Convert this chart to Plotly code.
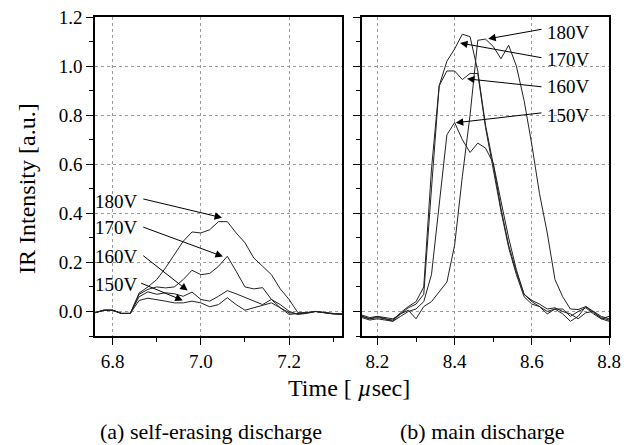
import plotly.graph_objects as go

# ---------------- data ----------------
voltages = ["180V", "170V", "160V", "150V"]

t_self = [6.76, 6.78, 6.80, 6.82, 6.84, 6.86, 6.88, 6.90, 6.92, 6.94, 6.96, 6.98, 7.00,
          7.02, 7.04, 7.06, 7.08, 7.10, 7.12, 7.14, 7.16, 7.18, 7.20, 7.22, 7.24, 7.26,
          7.28, 7.30, 7.32]
self_180 = [-0.005, 0.005, 0.005, -0.008, -0.008, 0.075, 0.10, 0.13, 0.178, 0.232, 0.286,
            0.324, 0.32, 0.333, 0.366, 0.366, 0.32, 0.28, 0.218, 0.184, 0.15, 0.092, 0.049,
            -0.005, -0.005, 0.0, -0.005, -0.01, -0.01]
self_170 = [-0.005, 0.005, 0.005, -0.008, -0.008, 0.07, 0.09, 0.10, 0.096, 0.10, 0.13,
            0.168, 0.15, 0.155, 0.184, 0.225, 0.164, 0.10, 0.092, 0.097, 0.049, 0.015,
            -0.012, -0.01, -0.005, 0.0, -0.005, -0.01, -0.012]
self_160 = [-0.005, 0.005, 0.005, -0.008, -0.008, 0.06, 0.08, 0.07, 0.076, 0.072, 0.062,
            0.079, 0.049, 0.042, 0.062, 0.085, 0.072, 0.058, 0.044, 0.028, 0.049, 0.028,
            0.001, -0.012, -0.008, 0.0, -0.005, -0.01, -0.012]
self_150 = [-0.005, 0.005, 0.005, -0.008, -0.008, 0.045, 0.054, 0.049, 0.042, 0.035, 0.035,
            0.042, 0.035, 0.019, 0.028, 0.056, 0.028, 0.005, 0.015, 0.022, 0.035, 0.015,
            -0.005, -0.01, -0.005, 0.0, -0.005, -0.01, -0.01]

t_main = [8.16, 8.18, 8.20, 8.22, 8.24, 8.26, 8.28, 8.30, 8.32, 8.34, 8.36, 8.38, 8.40,
          8.42, 8.44, 8.46, 8.48, 8.50, 8.52, 8.54, 8.56, 8.58, 8.60, 8.62, 8.64, 8.66,
          8.68, 8.70, 8.72, 8.74, 8.76, 8.78, 8.80]
main_180 = [-0.02, -0.03, -0.025, -0.03, -0.04, -0.01, 0.005, -0.03, 0.02, 0.04, 0.08, 0.12,
            0.27, 0.55, 0.80, 1.105, 1.11, 1.08, 1.03, 1.085, 1.0, 0.86, 0.68, 0.48, 0.32,
            0.13, 0.06, 0.01, 0.008, 0.02, -0.005, -0.025, -0.035]
main_170 = [-0.02, -0.03, -0.02, -0.03, -0.035, -0.005, 0.02, 0.04, 0.1, 0.58, 0.92, 1.02,
            1.07, 1.13, 1.12, 0.98, 0.76, 0.6, 0.42, 0.27, 0.16, 0.07, 0.04, 0.02, 0.0,
            0.01, -0.01, -0.04, -0.02, 0.02, 0.0, -0.02, -0.03]
main_160 = [-0.015, -0.025, -0.02, -0.025, -0.03, -0.01, 0.015, 0.03, 0.07, 0.5, 0.92, 0.98,
            0.98, 0.945, 0.97, 0.97, 0.75, 0.58, 0.41, 0.26, 0.15, 0.06, 0.03, 0.02, -0.01,
            0.01, 0.01, -0.02, 0.0, 0.015, -0.01, -0.03, -0.02]
main_150 = [-0.025, -0.035, -0.03, -0.035, -0.04, -0.02, 0.0, 0.01, 0.04, 0.15, 0.44, 0.72,
            0.77, 0.70, 0.648, 0.686, 0.666, 0.605, 0.45, 0.3, 0.17, 0.07, 0.045, 0.03,
            0.01, 0.015, 0.0, -0.01, -0.03, -0.005, 0.0, -0.03, -0.04]

# label positions (tail -> head) in data coordinates
self_label_xy = [(6.862, 0.448), (6.862, 0.342), (6.862, 0.224), (6.862, 0.11)]
self_tail = [(6.866, 0.46), (6.866, 0.346), (6.866, 0.232), (6.861, 0.118)]
self_head = [(7.048, 0.382), (7.05, 0.224), (6.970, 0.085), (6.959, 0.045)]
main_label_xy = [(8.635, 1.135), (8.635, 1.025), (8.635, 0.915), (8.635, 0.80)]
main_tail = [(8.629, 1.151), (8.629, 1.033), (8.629, 0.915), (8.629, 0.81)]
main_head = [(8.487, 1.111), (8.414, 1.094), (8.432, 0.948), (8.403, 0.769)]

# ---------------- figure ----------------
FONT = "Liberation Serif, Times New Roman, serif"
LINE = dict(color="#222222", width=1)

fig = go.Figure()
for name, ys in zip(voltages, [self_180, self_170, self_160, self_150]):
    fig.add_trace(go.Scatter(x=t_self, y=ys, mode="lines", line=LINE, name=name,
                             xaxis="x", yaxis="y", showlegend=False))
for name, ys in zip(voltages, [main_180, main_170, main_160, main_150]):
    fig.add_trace(go.Scatter(x=t_main, y=ys, mode="lines", line=LINE, name=name,
                             xaxis="x2", yaxis="y2", showlegend=False))

# page offset (browser body margin) compensation
OFF = 8
W, H = 624, 437
def px(v):
    return (v - OFF) / W
def py(v):
    return 1 - (v - OFF) / H

common_axis = dict(
    automargin=False,
    showline=True, linecolor="black", linewidth=1.5, mirror=True,
    ticks="outside", ticklen=7, tickwidth=1.2, tickcolor="black",
    showgrid=True, gridcolor="#9a9a9a", griddash="dot", gridwidth=1,
    zeroline=False, ticklabeloverflow="allow",
    tickfont=dict(family=FONT, size=19, color="black"),
    minor=dict(ticks="outside", ticklen=4, tickwidth=1, tickcolor="black", showgrid=False),
)

fig.update_layout(
    template="none",
    width=W, height=H,
    margin=dict(l=0, r=0, t=0, b=0, pad=0, autoexpand=False),
    plot_bgcolor="white", paper_bgcolor="white",
    font=dict(family=FONT, size=18, color="black"),
    xaxis=dict(common_axis, domain=[px(95), px(342)], range=[6.76, 7.32],
               dtick=0.2, tick0=6.8, tickformat=".1f",
               minor=dict(common_axis["minor"], dtick=0.1, tick0=6.8), anchor="y"),
    yaxis=dict(common_axis, domain=[py(336), py(17)], range=[-0.1, 1.2],
               dtick=0.2, tick0=0, tickformat=".1f",
               minor=dict(common_axis["minor"], dtick=0.1, tick0=0), anchor="x"),
    xaxis2=dict(common_axis, domain=[px(362), px(609)], range=[8.16, 8.8],
                dtick=0.2, tick0=8.2, tickformat=".1f",
                minor=dict(common_axis["minor"], dtick=0.1, tick0=8.2), anchor="y2"),
    yaxis2=dict(common_axis, domain=[py(336), py(17)], range=[-0.1, 1.2],
                dtick=0.2, tick0=0, showticklabels=False,
                minor=dict(common_axis["minor"], dtick=0.1, tick0=0), anchor="x2"),
)

ann = []
for lbl, (lx, ly), (tx, ty), (hx, hy) in zip(voltages, self_label_xy, self_tail, self_head):
    ann.append(dict(x=lx, y=ly, xref="x", yref="y", text=lbl, showarrow=False,
                    xanchor="right", yanchor="middle", font=dict(family=FONT, size=19)))
    ann.append(dict(x=hx, y=hy, ax=tx, ay=ty, xref="x", yref="y", axref="x", ayref="y",
                    text="", showarrow=True, arrowhead=2, arrowsize=1.5, arrowwidth=1,
                    arrowcolor="black", standoff=0, startstandoff=0))
for lbl, (lx, ly), (tx, ty), (hx, hy) in zip(voltages, main_label_xy, main_tail, main_head):
    ann.append(dict(x=lx, y=ly, xref="x2", yref="y2", text=lbl, showarrow=False,
                    xanchor="left", yanchor="middle", font=dict(family=FONT, size=19)))
    ann.append(dict(x=hx, y=hy, ax=tx, ay=ty, xref="x2", yref="y2", axref="x2", ayref="y2",
                    text="", showarrow=True, arrowhead=2, arrowsize=1.5, arrowwidth=1,
                    arrowcolor="black", standoff=0, startstandoff=0))

ann.append(dict(x=px(27), y=py(189), xref="paper", yref="paper", text="IR Intensity [a.u.]",
                textangle=-90, showarrow=False, xanchor="center", yanchor="middle",
                font=dict(family=FONT, size=24)))
ann.append(dict(x=px(349), y=py(388), xref="paper", yref="paper",
                text="Time [ <i>\u00b5</i>sec]", showarrow=False,
                xanchor="center", yanchor="middle", font=dict(family=FONT, size=24)))
ann.append(dict(x=px(211), y=py(431), xref="paper", yref="paper",
                text="(a) self-erasing discharge", showarrow=False,
                xanchor="center", yanchor="middle", font=dict(family=FONT, size=22)))
ann.append(dict(x=px(482), y=py(431), xref="paper", yref="paper",
                text="(b) main discharge", showarrow=False,
                xanchor="center", yanchor="middle", font=dict(family=FONT, size=22)))
fig.update_layout(annotations=ann)

fig.write_html("out.html")
